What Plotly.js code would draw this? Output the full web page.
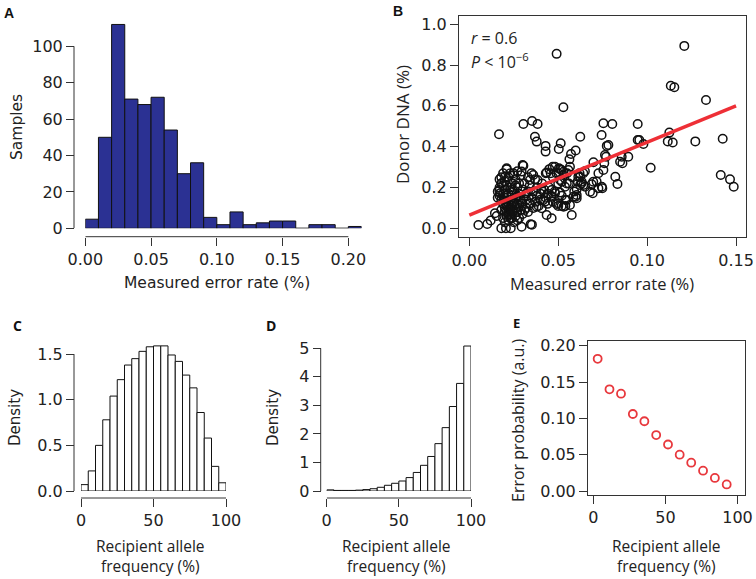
<!DOCTYPE html>
<html><head><meta charset="utf-8">
<script src="https://cdn.plot.ly/plotly-3.0.1.min.js"></script>
<style>html,body{margin:0;padding:0;background:#fff}#chart{width:756px;height:579px}</style>
</head><body><div id="chart"></div>
<script>
// ---------- Panel A : histogram of measured error rate ----------
const binLeftA = [0.00,0.01,0.02,0.03,0.04,0.05,0.06,0.07,0.08,0.09,0.10,0.11,0.12,0.13,0.14,0.15,0.16,0.17,0.18,0.19,0.20];
const countsA  = [5,50,112,71,68,72,54,30,36,6,2,9,2,3,4,4,0,2,2,0,1];
const binWidthA = 0.01;
const ticksAx = [0,0.05,0.10,0.15,0.20];
const ticksAy = [0,20,40,60,80,100];

// ---------- Panel B : donor DNA vs measured error rate ----------
const pointsB = [
 [0.0167,0.461],[0.0304,0.511],[0.0353,0.526],[0.0384,0.511],[0.0369,0.449],[0.0379,0.425],[0.0429,0.404],[0.0429,0.376],
 [0.0491,0.855],[0.0503,0.389],[0.0514,0.417],[0.0529,0.593],[0.0572,0.364],[0.0598,0.381],[0.0624,0.449],[0.0563,0.338],
 [0.0754,0.515],[0.0804,0.511],[0.0744,0.457],[0.0773,0.404],[0.0782,0.408],[0.0769,0.351],[0.0759,0.319],[0.0698,0.324],
 [0.0688,0.216],[0.0694,0.172],[0.0748,0.196],[0.0716,0.229],[0.0821,0.253],[0.0833,0.217],[0.0857,0.351],[0.0861,0.319],
 [0.0894,0.351],[0.0947,0.511],[0.0947,0.433],[0.0956,0.433],[0.0979,0.413],[0.1020,0.297],[0.1125,0.469],[0.1116,0.426],
 [0.1144,0.421],[0.1271,0.426],[0.1425,0.439],[0.1209,0.894],[0.1133,0.699],[0.1153,0.691],[0.1331,0.629],[0.1414,0.261],
 [0.1466,0.240],[0.1487,0.204],[0.0763,0.359],[0.0848,0.326],[0.0754,0.286],[0.0726,0.270],[0.0697,0.228],[0.0726,0.196],
 [0.0745,0.204],[0.0679,0.179],[0.0651,0.204],[0.0632,0.228],[0.0613,0.253],[0.0623,0.212],[0.0604,0.147],[0.0585,0.155],
 [0.0557,0.286],[0.0529,0.277],[0.0482,0.302],[0.0501,0.270],[0.0520,0.228],[0.0548,0.220],[0.0540,0.139],[0.0500,0.123],
 [0.0530,0.106],
 [0.0051,0.016],[0.0101,0.021],[0.0120,0.038],[0.0144,0.074],[0.0154,0.060],[0.0180,0.000],[0.0206,0.000],[0.0233,0.000],
 [0.0294,0.008],[0.0345,0.020],[0.0352,0.018],[0.0576,0.065],[0.0463,0.049],[0.0435,0.065],
 [0.0566,0.114],[0.0548,0.139],[0.0598,0.155],[0.0604,0.163],[0.0604,0.191],[0.0641,0.212],[0.0641,0.270],[0.0623,0.253],
 [0.0566,0.302],[0.0519,0.286],[0.0504,0.294],[0.0458,0.270],[0.0435,0.273],[0.0469,0.302],[0.0510,0.237],[0.0538,0.204],
 [0.0510,0.175],[0.0482,0.172],[0.0463,0.155],[0.0416,0.139],[0.0407,0.188],[0.0384,0.237],[0.0360,0.261],[0.0341,0.237],
 [0.0304,0.307],[0.0294,0.278],[0.0248,0.270],[0.0210,0.294],[0.0201,0.253],[0.0182,0.221],[0.0169,0.188],[0.0173,0.172],
 [0.0191,0.139],[0.0210,0.114],[0.0229,0.090],[0.0248,0.123],[0.0266,0.155],[0.0285,0.139],[0.0323,0.172],[0.0341,0.123],
 [0.0379,0.106],[0.0407,0.098],[0.0426,0.131],[0.0463,0.188],[0.0491,0.119],[0.0519,0.109],
 [0.016,0.18],[0.017,0.16],[0.017,0.20],[0.018,0.14],[0.018,0.22],[0.018,0.25],[0.019,0.12],[0.019,0.17],[0.019,0.27],
 [0.020,0.10],[0.020,0.08],[0.020,0.15],[0.020,0.19],[0.020,0.23],[0.021,0.06],[0.021,0.11],[0.021,0.13],[0.021,0.21],
 [0.021,0.29],[0.022,0.04],[0.022,0.09],[0.022,0.12],[0.022,0.17],[0.022,0.25],[0.023,0.07],[0.023,0.10],[0.023,0.14],
 [0.023,0.20],[0.023,0.27],[0.024,0.05],[0.024,0.08],[0.024,0.11],[0.024,0.16],[0.024,0.22],[0.025,0.03],[0.025,0.09],
 [0.025,0.13],[0.025,0.18],[0.025,0.26],[0.026,0.06],[0.026,0.10],[0.026,0.15],[0.026,0.24],[0.027,0.08],[0.027,0.12],
 [0.027,0.20],[0.027,0.28],[0.028,0.11],[0.028,0.17],[0.028,0.22],[0.029,0.09],[0.029,0.14],[0.029,0.26],[0.030,0.31],
 [0.030,0.12],[0.030,0.19],[0.031,0.16],[0.031,0.22],[0.032,0.10],[0.032,0.14],[0.033,0.18],[0.033,0.25],[0.034,0.12],
 [0.034,0.21],[0.035,0.15],[0.035,0.27],[0.036,0.10],[0.036,0.18],[0.037,0.24],[0.037,0.13],[0.038,0.20],[0.038,0.16],
 [0.039,0.11],[0.040,0.17],[0.040,0.14],[0.041,0.22],[0.042,0.19],[0.043,0.15],[0.043,0.27],[0.044,0.17],[0.044,0.12],
 [0.045,0.20],[0.045,0.29],[0.046,0.16],[0.047,0.25],[0.047,0.13],[0.048,0.18],[0.049,0.27],[0.050,0.11],[0.050,0.22],
 [0.051,0.29],[0.052,0.16],[0.053,0.26],[0.054,0.11],[0.055,0.27],[0.056,0.22],[0.058,0.25],[0.059,0.18],[0.061,0.23],
 [0.062,0.27],[0.063,0.22],[0.065,0.28],
 [0.019,0.05],[0.020,0.03],[0.021,0.08],[0.022,0.07],[0.023,0.05],[0.021,0.16],[0.019,0.21],[0.018,0.09],[0.017,0.24],
 [0.016,0.15],[0.024,0.19],[0.026,0.21],[0.028,0.05],[0.030,0.07],[0.031,0.09],[0.027,0.04],[0.033,0.08]
];
const errB   = pointsB.map(p => p[0]);
const donorB = pointsB.map(p => p[1]);
const fitX = [0.00, 0.15];
const fitY = [0.065, 0.600];
const ticksBx = [0,0.05,0.10,0.15];
const ticksBy = [0,0.2,0.4,0.6,0.8,1.0];

// ---------- Panel C : symmetric allele-frequency density ----------
const binLeftCD = [0,5,10,15,20,25,30,35,40,45,50,55,60,65,70,75,80,85,90,95];
const binWidthCD = 5;
const densC = [0.07,0.22,0.50,0.78,1.04,1.22,1.38,1.45,1.53,1.58,1.59,1.59,1.49,1.42,1.27,1.13,0.86,0.58,0.27,0.09];
const ticksCx = [0,50,100];
const ticksCy = [0,0.5,1.0,1.5];

// ---------- Panel D : skewed allele-frequency density ----------
const densD = [0.04,0.02,0.02,0.02,0.03,0.05,0.08,0.13,0.20,0.27,0.35,0.47,0.65,0.90,1.21,1.66,2.22,2.96,3.77,5.08];
const ticksDy = [0,1,2,3,4,5];

// ---------- Panel E : error probability vs allele frequency ----------
const freqE = [3.0,11.2,19.2,27.4,35.4,43.6,51.8,59.9,67.9,76.1,84.3,92.5];
const probE = [0.182,0.140,0.134,0.106,0.096,0.077,0.064,0.050,0.039,0.028,0.018,0.009];
const ticksEy = [0,0.05,0.10,0.15,0.20];

const centers = (lefts, w) => lefts.map(v => v + w/2);

const TF = {family:'DejaVu Sans, sans-serif', size:16, color:'#222'};
const MY = 'Open Sans, Noto Sans, sans-serif';
const AXC = '#333';

const traces = [
  {type:'bar', x:centers(binLeftA,binWidthA), y:countsA, width:binWidthA, xaxis:'x', yaxis:'y',
   marker:{color:'#2B3193', line:{color:'#111', width:1}}},
  {type:'scatter', mode:'markers', x:errB, y:donorB, xaxis:'x2', yaxis:'y2',
   marker:{symbol:'circle-open', size:8.5, color:'#111', line:{width:1.5, color:'#111'}}},
  {type:'scatter', mode:'lines', x:fitX, y:fitY, xaxis:'x2', yaxis:'y2',
   line:{color:'#EE2F36', width:3.5}},
  {type:'bar', x:centers(binLeftCD,binWidthCD), y:densC, width:binWidthCD, xaxis:'x3', yaxis:'y3',
   marker:{color:'#fff', line:{color:'#111', width:1}}},
  {type:'bar', x:centers(binLeftCD,binWidthCD), y:densD, width:binWidthCD, xaxis:'x4', yaxis:'y4',
   marker:{color:'#fff', line:{color:'#111', width:1}}},
  {type:'scatter', mode:'markers', x:freqE, y:probE, xaxis:'x5', yaxis:'y5',
   marker:{symbol:'circle-open', size:8, color:'#E8383D', line:{width:1.8, color:'#E8383D'}}}
];

const W = 756, H = 579;
const px = v => v / W;
const py = v => 1 - v / H;

const baseAx = {showgrid:false, zeroline:false, ticks:'outside', ticklen:8, tickwidth:1, tickcolor:AXC,
                tickfont:TF, fixedrange:true, automargin:false};

function ann(text, x, y, font, extra) {
  return Object.assign({text:text, x:px(x), y:py(y), xref:'paper', yref:'paper', showarrow:false,
                        xanchor:'center', yanchor:'middle', font:font}, extra || {});
}
const fBold = {family:'Liberation Sans, Arial, sans-serif', size:14, color:'#111'};
const fBoldMy = {family:MY, size:14, color:'#111'};
const fHel = {family:'DejaVu Sans, sans-serif', size:15.5, color:'#222'};
const fMy = s => ({family:MY, size:s, color:'#222'});

const layout = {
  width:W, height:H, margin:{l:0,r:0,t:0,b:0}, paper_bgcolor:'#fff', plot_bgcolor:'#fff',
  showlegend:false, bargap:0,
  // A
  xaxis: Object.assign({}, baseAx, {domain:[px(85.3), px(361.5)], range:[0,0.21], anchor:'free', position:py(236.7),
          tickvals:ticksAx, tickformat:'.2f', showline:false}),
  yaxis: Object.assign({}, baseAx, {domain:[py(228.3), py(19)], range:[0,115], anchor:'free', position:px(74),
          tickvals:ticksAy, showline:false}),
  // B
  xaxis2: Object.assign({}, baseAx, {domain:[px(459), px(746)], range:[-0.0058,0.1556], anchor:'y2',
          tickvals:ticksBx, tickformat:'.2f', showline:true, mirror:true, linecolor:AXC, linewidth:1}),
  yaxis2: Object.assign({}, baseAx, {domain:[py(237.3), py(15.7)], range:[-0.044,1.042], anchor:'x2',
          tickvals:ticksBy, tickformat:'.1f', showline:true, mirror:true, linecolor:AXC, linewidth:1}),
  // C
  xaxis3: Object.assign({}, baseAx, {domain:[px(81), px(226)], range:[0,100], anchor:'free', position:py(498),
          tickvals:ticksCx, showline:false}),
  yaxis3: Object.assign({}, baseAx, {domain:[py(491), py(340.4)], range:[0,1.65], anchor:'free', position:px(74),
          tickvals:ticksCy, tickformat:'.1f', showline:false}),
  // D
  xaxis4: Object.assign({}, baseAx, {domain:[px(326.7), px(471)], range:[0,100], anchor:'free', position:py(498),
          tickvals:ticksCx, showline:false}),
  yaxis4: Object.assign({}, baseAx, {domain:[py(491), py(342.6)], range:[0,5.2], anchor:'free', position:px(320.7),
          tickvals:ticksDy, showline:false}),
  // E
  xaxis5: Object.assign({}, baseAx, {domain:[px(588), px(745)], range:[-3.7,105.2], anchor:'y5',
          tickvals:ticksCx, showline:true, mirror:true, linecolor:AXC, linewidth:1}),
  yaxis5: Object.assign({}, baseAx, {domain:[py(495), py(341)], range:[-0.0055,0.2065], anchor:'x5',
          tickvals:ticksEy, tickformat:'.2f', showline:true, mirror:true, linecolor:AXC, linewidth:1}),
  shapes: [
    {type:'line', xref:'x', yref:'paper', x0:ticksAx[0], x1:ticksAx[ticksAx.length-1], y0:py(236.7), y1:py(236.7), line:{color:AXC,width:1}},
    {type:'line', xref:'paper', yref:'y', x0:px(74), x1:px(74), y0:ticksAy[0], y1:ticksAy[ticksAy.length-1], line:{color:AXC,width:1}},
    {type:'line', xref:'x3', yref:'paper', x0:ticksCx[0], x1:ticksCx[ticksCx.length-1], y0:py(498), y1:py(498), line:{color:AXC,width:1}},
    {type:'line', xref:'paper', yref:'y3', x0:px(74), x1:px(74), y0:ticksCy[0], y1:ticksCy[ticksCy.length-1], line:{color:AXC,width:1}},
    {type:'line', xref:'x4', yref:'paper', x0:ticksCx[0], x1:ticksCx[ticksCx.length-1], y0:py(498), y1:py(498), line:{color:AXC,width:1}},
    {type:'line', xref:'paper', yref:'y4', x0:px(320.7), x1:px(320.7), y0:ticksDy[0], y1:ticksDy[ticksDy.length-1], line:{color:AXC,width:1}}
  ],
  annotations: [
    ann('<b>A</b>', 9, 13, fBold),
    ann('<b>B</b>', 398, 11, fBold),
    ann('<b>C</b>', 17, 325, fBoldMy),
    ann('<b>D</b>', 271, 325, fBoldMy),
    ann('<b>E</b>', 516, 323, {family:MY, size:13, color:'#111'}),
    ann('Measured error rate (%)', 217, 283, fHel),
    ann('Samples', 17, 127, fHel, {textangle:-90}),
    ann('Measured error rate (%)', 601.5, 283, fMy(16.5)),
    ann('Donor DNA (%)', 402, 125, fMy(17), {textangle:-90}),
    ann('Density', 15, 418, {family:'DejaVu Sans, sans-serif', size:15, color:'#222'}, {textangle:-90}),
    ann('Recipient allele<br>frequency (%)', 150, 556, fMy(15.5)),
    ann('Density', 273, 418, {family:'DejaVu Sans, sans-serif', size:15, color:'#222'}, {textangle:-90}),
    ann('Recipient allele<br>frequency (%)', 396.7, 556, fMy(15.5)),
    ann('Error probability (a.u.)', 518, 420, fMy(16), {textangle:-90}),
    ann('Recipient allele<br>frequency (%)', 666.7, 556, fMy(15.5)),
    ann('<i>r</i> = 0.6', 469, 38, fMy(16), {xanchor:'left'}),
    ann('<i>P</i> &lt; 10<sup>−6</sup>', 469, 61, fMy(16), {xanchor:'left'})
  ]
};

Plotly.newPlot('chart', traces, layout, {displayModeBar:false, staticPlot:true});
</script>
</body></html>
